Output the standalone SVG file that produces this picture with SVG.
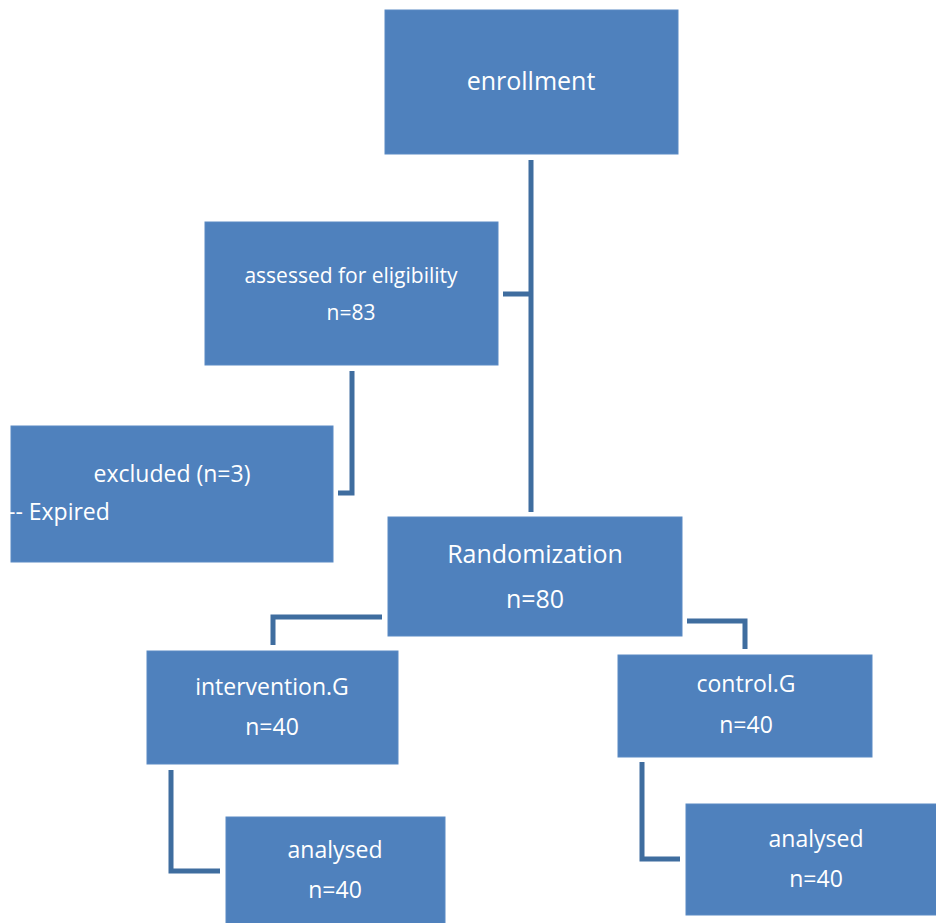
<svg xmlns="http://www.w3.org/2000/svg" width="936" height="923" viewBox="0 0 936 923">
<style>
.box{fill:#4f81bd;stroke:#5a8ac4;stroke-width:1}
.t{fill:#ffffff;font-family:"Open Sans","Noto Sans",sans-serif;text-anchor:middle}
.c{fill:none;stroke:#3f6d9f;stroke-width:5;stroke-linejoin:miter}
</style>
<rect width="936" height="923" fill="#ffffff"/>
<g id="connectors">
<path class="c" d="M531,160 V512"/>
<path class="c" d="M503,294 H531"/>
<path class="c" d="M352,371 V493 H338"/>
<path class="c" d="M382,617 H273 V645"/>
<path class="c" d="M687,621 H745 V649"/>
<path class="c" d="M171,770 V871 H220"/>
<path class="c" d="M642,762 V859 H680"/>
</g>
<g id="enrollment">
<rect class="box" x="385" y="10" width="293" height="144"/>
<text class="t" x="531" y="90" font-size="25">enrollment</text>
</g>
<g id="assessed">
<rect class="box" x="205" y="222" width="293" height="143"/>
<text class="t" x="351" y="283" font-size="21">assessed for eligibility</text>
<text class="t" x="351" y="320" font-size="21">n=83</text>
</g>
<g id="excluded">
<rect class="box" x="11" y="426" width="322" height="136"/>
<text class="t" x="172" y="482" font-size="23">excluded (n=3)</text>
<text class="t" x="8" y="520" font-size="23" style="text-anchor:start">-- Expired</text>
</g>
<g id="randomization">
<rect class="box" x="388" y="517" width="294" height="119"/>
<text class="t" x="535" y="563" font-size="25">Randomization</text>
<text class="t" x="535" y="608" font-size="25">n=80</text>
</g>
<g id="intervention">
<rect class="box" x="147" y="651" width="251" height="113"/>
<text class="t" x="272" y="695" font-size="23">intervention.G</text>
<text class="t" x="272" y="735" font-size="23">n=40</text>
</g>
<g id="control">
<rect class="box" x="618" y="655" width="254" height="102"/>
<text class="t" x="746" y="692" font-size="23">control.G</text>
<text class="t" x="746" y="733" font-size="23">n=40</text>
</g>
<g id="analysed-left">
<rect class="box" x="226" y="817" width="219" height="110"/>
<text class="t" x="335" y="858" font-size="23">analysed</text>
<text class="t" x="335" y="898" font-size="23">n=40</text>
</g>
<g id="analysed-right">
<rect class="box" x="686" y="804" width="254" height="111"/>
<text class="t" x="816" y="847" font-size="23">analysed</text>
<text class="t" x="816" y="887" font-size="23">n=40</text>
</g>
</svg>
